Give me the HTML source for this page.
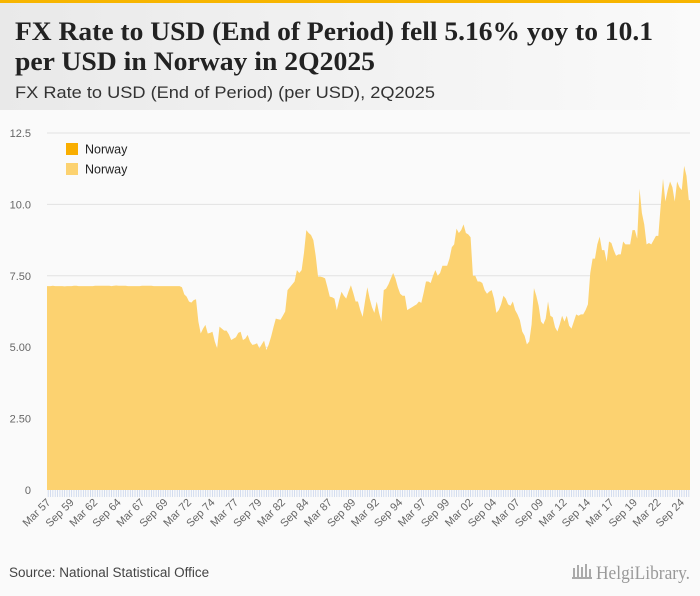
<!DOCTYPE html>
<html><head><meta charset="utf-8">
<style>
html,body{margin:0;padding:0;}
body{width:700px;height:596px;background:#fafafa;overflow:hidden;font-family:"Liberation Sans",sans-serif;}
svg{display:block;}
</style></head>
<body>
<svg id="chart" width="700" height="596" viewBox="0 0 700 596" xmlns="http://www.w3.org/2000/svg">
<defs><linearGradient id="hg" x1="0" x2="1" y1="0" y2="0"><stop offset="0" stop-color="#e9e9e9"/><stop offset="1" stop-color="#fafafa"/></linearGradient></defs>
<rect x="0" y="0" width="700" height="110" fill="url(#hg)"/>
<rect x="0" y="0" width="700" height="3" fill="#f7b500"/>
<rect x="0" y="110" width="700" height="486" fill="#fafafa"/>
<text x="15" y="40" font-family="Liberation Serif, serif" font-weight="bold" font-size="26" fill="#222" textLength="638" lengthAdjust="spacingAndGlyphs">FX Rate to USD (End of Period) fell 5.16% yoy to 10.1</text>
<text x="15" y="70" font-family="Liberation Serif, serif" font-weight="bold" font-size="26" fill="#222" textLength="360" lengthAdjust="spacingAndGlyphs">per USD in Norway in 2Q2025</text>
<text x="15" y="98" font-size="17" fill="#333" textLength="420" lengthAdjust="spacingAndGlyphs">FX Rate to USD (End of Period) (per USD), 2Q2025</text>
<g id="grid"></g>
<g id="area"></g>
<g id="xaxis"></g>
<g>
<rect x="66" y="143" width="12" height="12" fill="#f9ae00"/>
<text x="85" y="153.5" font-size="12.5" fill="#222">Norway</text>
<rect x="66" y="163" width="12" height="12" fill="#fcd270"/>
<text x="85" y="173.5" font-size="12.5" fill="#222">Norway</text>
</g>
<text x="9" y="577" font-size="13.5" fill="#444">Source: National Statistical Office</text>
<g>
<path d="M572 578 h20 M574 578 v-10 M578 578 v-13 M582 578 v-11 M586 578 v-14 M590 578 v-9" stroke="#aaa" stroke-width="2"/>
<text x="596" y="579" font-family="Liberation Serif, serif" font-size="19" fill="#999" textLength="94" lengthAdjust="spacingAndGlyphs">HelgiLibrary.</text>
</g>
</svg>
<script>
const yTicks = [0, 2.5, 5, 7.5, 10, 12.5];
const yTickLabels = ["0", "2.50", "5.00", "7.50", "10.0", "12.5"];
const startYear = 1957;
const values = [
7.14,7.14,7.15,7.14, 7.14,7.14,7.14,7.13, 7.14,7.14,7.14,7.15, 7.15,7.14,7.14,7.14,
7.14,7.14,7.14,7.14, 7.15,7.15,7.15,7.15, 7.15,7.15,7.15,7.14, 7.15,7.16,7.15,7.15,
7.15,7.15,7.14,7.14, 7.14,7.14,7.14,7.14, 7.15,7.15,7.15,7.15, 7.15,7.14,7.14,7.14,
7.14,7.14,7.14,7.14, 7.14,7.14,7.14,7.14,
7.14,7.1,6.85,6.77, 6.6,6.56,6.65,6.68, 5.9,5.48,5.65,5.78, 5.48,5.5,5.54,5.2,
4.96,5.72,5.65,5.58, 5.58,5.45,5.25,5.3, 5.35,5.5,5.54,5.25, 5.3,5.43,5.2,5.08,
5.1,5.14,4.96,5.1, 5.23,4.9,5.1,5.37, 5.7,6.0,5.98,5.96, 6.1,6.25,7.0,7.1,
7.2,7.3,7.7,7.6, 7.7,8.3,9.1,9.0, 8.93,8.75,8.2,7.47, 7.47,7.45,7.41,7.1,
6.77,6.75,6.7,6.3, 6.65,6.94,6.8,6.7, 6.95,7.17,6.9,6.6, 6.6,6.3,6.06,6.6,
7.1,6.7,6.4,6.2, 6.6,6.2,5.9,7.0, 7.05,7.2,7.4,7.6, 7.4,7.1,6.87,6.8,
6.8,6.3,6.35,6.4, 6.45,6.5,6.6,6.55, 6.9,7.3,7.3,7.25, 7.5,7.7,7.5,7.6,
7.85,7.85,7.85,8.1, 8.5,8.6,9.15,9.0, 9.1,9.3,9.0,8.95, 8.85,7.5,7.5,7.3,
7.3,7.25,7.0,6.87, 6.95,7.0,6.7,6.2, 6.3,6.5,6.8,6.7, 6.5,6.45,6.6,6.3,
6.15,5.95,5.55,5.4, 5.1,5.2,5.8,7.07, 6.8,6.45,5.9,5.8, 6.0,6.6,6.1,6.05,
5.7,5.55,5.8,6.1, 5.9,6.1,5.75,5.65, 5.9,6.15,6.1,6.15, 6.15,6.3,6.5,7.6,
8.1,8.1,8.6,8.87, 8.4,8.4,8.0,8.7, 8.65,8.4,8.2,8.25, 8.25,8.7,8.6,8.6,
8.6,9.1,9.1,8.8, 10.55,9.7,9.3,8.6, 8.65,8.6,8.75,8.9, 8.9,9.95,10.9,10.1,
10.5,10.8,10.6,10.1, 10.8,10.6,10.5,11.35, 11.0,10.15
];
const NS = "http://www.w3.org/2000/svg";
const X0 = 47, X1 = 690, Y0 = 490, Y1 = 133, YMAX = 12.5;
const n = values.length;
const step = (X1 - X0) / n;
function xPos(i){ return X0 + i * step; }
function yPos(v){ return Y0 - (v / YMAX) * (Y0 - Y1); }
function mk(tag, attrs, parent){ const e = document.createElementNS(NS, tag); for (const k in attrs) e.setAttribute(k, attrs[k]); parent.appendChild(e); return e; }
const grid = document.getElementById('grid');
yTicks.forEach((t, k) => {
  if (t > 0) {
    const l = mk('line', {x1: X0, x2: X1, y1: yPos(t), y2: yPos(t), stroke: '#e2e2e2', 'stroke-width': 1}, grid);
    
    
  }
  const tx = mk('text', {x: 31, y: yPos(t) + 4, 'text-anchor': 'end', 'font-size': 11, fill: '#666'}, grid);
  tx.textContent = yTickLabels[k];
  
  
});
const area = document.getElementById('area');
let d = 'M' + xPos(0) + ' ' + Y0 + ' L' + xPos(0) + ' ' + yPos(values[0]);
values.forEach((v, i) => { d += ' L' + (xPos(i) + step / 2) + ' ' + yPos(v); });
d += ' L' + xPos(n) + ' ' + yPos(values[n - 1]) + ' L' + xPos(n) + ' ' + Y0 + ' Z';
const p = mk('path', {d: d, fill: '#fcd270'}, area);


const xa = document.getElementById('xaxis');
for (let i = 0; i < n; i++) {
  const t = mk('line', {x1: xPos(i) + step / 2, x2: xPos(i) + step / 2, y1: Y0, y2: Y0 + 7, stroke: '#c9d5ec', 'stroke-width': 0.8}, xa);
  
  
}
for (let i = 0; i < n; i += 10) {
  const yr = startYear + Math.floor(i / 4);
  const q = i % 4;
  const mon = ['Mar', 'Jun', 'Sep', 'Dec'][q];
  const lbl = mon + ' ' + String(yr % 100).padStart(2, '0');
  const x = xPos(i) + step / 2 + 3, y = Y0 + 13;
  const tx = mk('text', {x: x, y: y, 'text-anchor': 'end', 'font-size': 11, fill: '#666', transform: 'rotate(-45 ' + x + ' ' + y + ')'}, xa);
  tx.textContent = lbl;
  
  
}
</script>
</body></html>
